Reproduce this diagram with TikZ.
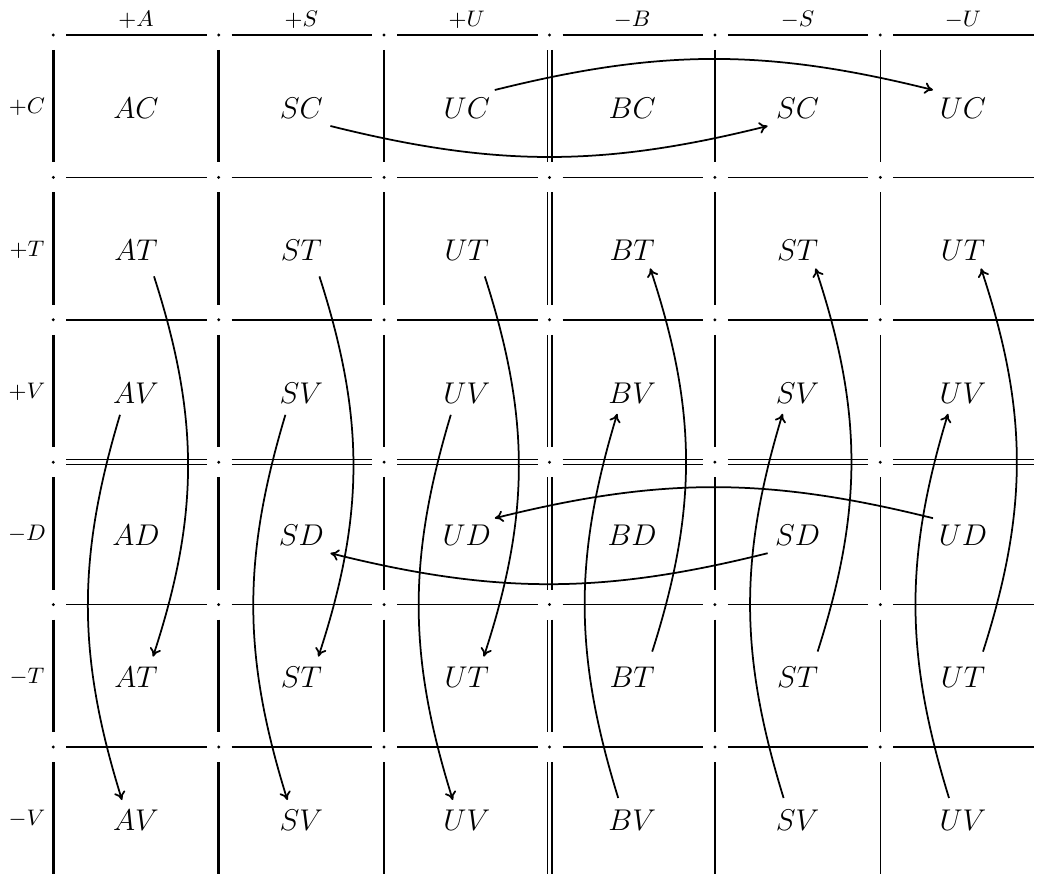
\documentclass[tikz,border=0pt]{standalone}
\usetikzlibrary{arrows.meta}
\begin{document}
\begin{tikzpicture}[x=0.4pt,y=-0.4pt,
  gthick/.style={line width=1pt},
  gthin/.style={line width=0.6pt},
  gdouble/.style={line width=0.5pt,double distance=1.4pt},
  cell/.style={font=\fontsize{13}{15}\selectfont,inner sep=2pt},
  head/.style={font=\fontsize{9.5}{11}\selectfont,inner sep=1pt},
  arr/.style={line width=0.7pt,-{To[length=3.4pt,width=4.6pt]}}]
\useasboundingbox (0,0) rectangle (1037,885);
% dots
\foreach \i in {0,...,5}{
  \foreach \j in {0,...,5}{
    \fill (53.3+\i*165.4,35+\j*142.4) circle[radius=0.65pt];
  }
}
% horizontal segments
\foreach \i in {0,...,5}{
  \draw[gthick] (66.3+\i*165.4,35) -- (206.7+\i*165.4,35);
  \foreach \j in {1,2,4,5}{
    \draw[gthin] (66.3+\i*165.4,35+\j*142.4) -- (206.7+\i*165.4,35+\j*142.4);
  }
  \draw[gdouble] (66.3+\i*165.4,462.2) -- (206.7+\i*165.4,462.2);
}
% vertical segments
\foreach \j in {0,...,5}{
  \foreach \i in {0,1,2}{
    \draw[gthick] (53.3+\i*165.4,50+\j*142.4) -- (53.3+\i*165.4,162.4+\j*142.4);
  }
  \draw[gdouble] (549.5,50+\j*142.4) -- (549.5,162.4+\j*142.4);
  \foreach \i in {4,5}{
    \draw[gthin] (53.3+\i*165.4,50+\j*142.4) -- (53.3+\i*165.4,162.4+\j*142.4);
  }
}
% headers
\foreach \t [count=\i from 0] in {+A,+S,+U,-B,-S,-U}{
  \node[head] (h\i) at (136+\i*165.4,20) {$\t$};
}
\foreach \t [count=\j from 0] in {+C,+T,+V,-D,-T,-V}{
  \node[head] (r\j) at (27,107+\j*142.4) {$\t$};
}
% cells
\foreach \c [count=\i from 0] in {A,S,U,B,S,U}{
  \foreach \r [count=\j from 0] in {C,T,V,D,T,V}{
    \node[cell] (n\i\j) at (136+\i*165.4,108+\j*142.4) {$\c\r$};
  }
}
% horizontal arcs
\draw[arr] ([shift={(28,-18)}]n20.center) to[bend left=14] ([shift={(-30,-18)}]n50.center);
\draw[arr] ([shift={(29,18)}]n10.center) to[bend right=14] ([shift={(-30,18)}]n40.center);
\draw[arr] ([shift={(-30,-17)}]n53.center) to[bend right=14] ([shift={(28,-17)}]n23.center);
\draw[arr] ([shift={(-30,18)}]n43.center) to[bend left=14] ([shift={(29,18)}]n13.center);
% vertical arcs, positive columns
\foreach \i in {0,1,2}{
  \draw[arr] ([shift={(18,26)}]n\i1.center) to[bend left=18] ([shift={(17,-21)}]n\i4.center);
  \draw[arr] ([shift={(-16,22)}]n\i2.center) to[bend right=17] ([shift={(-14,-20)}]n\i5.center);
}
% vertical arcs, negative columns
\foreach \i in {3,4,5}{
  \draw[arr] ([shift={(20,-26)}]n\i4.center) to[bend right=18] ([shift={(18,18)}]n\i1.center);
  \draw[arr] ([shift={(-14,-22)}]n\i5.center) to[bend left=17] ([shift={(-15,21)}]n\i2.center);
}
\end{tikzpicture}
\end{document}
